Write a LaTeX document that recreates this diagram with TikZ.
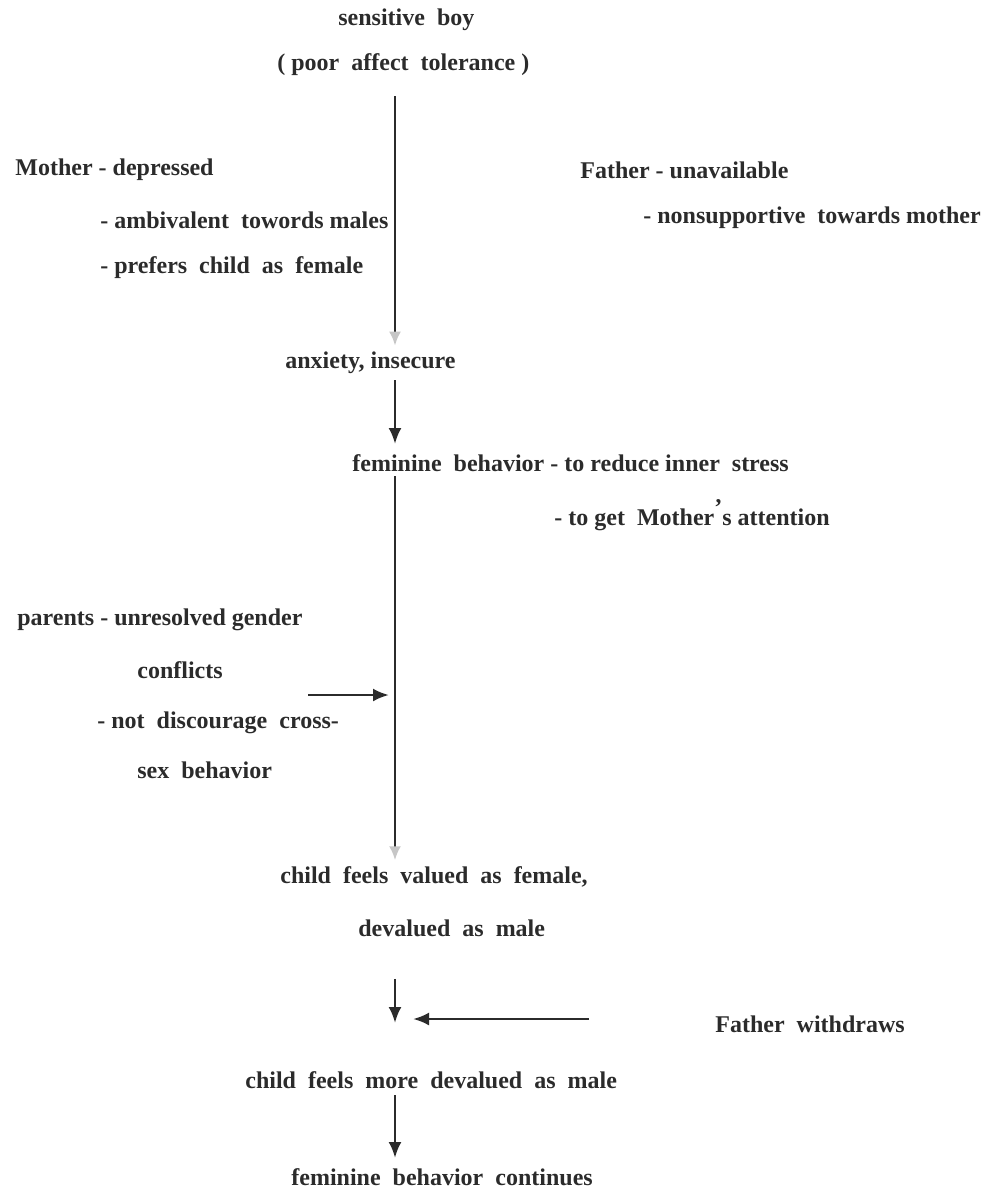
\documentclass[tikz,border=0pt]{standalone}
\usepackage{fontspec}
\setmainfont{Liberation Serif}
\usetikzlibrary{arrows.meta}
\definecolor{ink}{HTML}{2B2B2B}
\tikzset{
	txt/.style={anchor=west, inner sep=0pt, text=ink, font=\fontsize{12}{14}\selectfont\bfseries},
	flow/.style={draw=ink, line width=1.3pt, -{Latex[length=8pt,width=6.5pt]}},
	faint/.style={draw=ink, line width=1.3pt, -{Latex[length=7pt,width=6pt,color=gray!45]}}
}
\begin{document}
\begin{tikzpicture}[x=0.5pt,y=-0.5pt]

			\useasboundingbox (0,0) rectangle (1000,1194);
			\coordinate (spine) at (395,0);

			\node[txt] (boy) at (338,20) {sensitive \ boy};
			\node[txt] (tol) at (277,65) {( poor \ affect \ tolerance )};

			\node[txt] (mom1) at (15,170) {Mother - depressed};
			\node[txt] (mom2) at (100,220) {- ambivalent \ towords males};
			\node[txt] (mom3) at (100,268) {- prefers \ child \ as \ female};

			\node[txt] (dad1) at (580,170) {Father - unavailable};
			\node[txt] (dad2) at (643,218) {- nonsupportive \ towards mother};

			\node[txt] (anx) at (285,363) {anxiety, insecure};

			\node[txt] (fem1) at (352,463) {feminine \ behavior - to reduce inner \ stress};
			\node[txt] (fem2) at (554,515) {- to get \ Mother\raisebox{0.4em}{'}s attention};

			\node[txt] (par1) at (17,620) {parents - unresolved gender};
			\node[txt] (par2) at (137,670) {conflicts};
			\node[txt] (par3) at (97,723) {- not \ discourage \ cross-};
			\node[txt] (par4) at (137,770) {sex \ behavior};

			\node[txt] (val1) at (280,877) {child \ feels \ valued \ as \ female,};
			\node[txt] (val2) at (358,928) {devalued \ as \ male};

			\node[txt] (dadw) at (715,1024) {Father \ withdraws};

			\node[txt] (more) at (245,1080) {child \ feels \ more \ devalued \ as \ male};
			\node[txt] (cont) at (291,1177) {feminine \ behavior \ continues};

			\coordinate (parsrc) at (308,695);

			\draw[faint, shorten <=10pt, shorten >=3pt] (tol.south -| spine) -- (anx.north -| spine);
			\draw[flow, shorten <=3pt, shorten >=5pt] (anx.south -| spine) -- (fem1.north -| spine);
			\draw[faint, shorten <=2pt, shorten >=3pt] (fem1.south -| spine) -- (val1.north -| spine);
			\draw[flow, shorten >=3pt] (parsrc) -- (parsrc -| spine);
			\draw[flow, shorten <=21pt, shorten >=24pt] (val2.south -| spine) -- (more.north -| spine);
			\draw[flow, shorten <=63pt, shorten >=9pt] (dadw.west |- 0,1019) -- (spine |- 0,1019);
			\draw[flow, shorten <=3pt, shorten >=5pt] (more.south -| spine) -- (cont.north -| spine);
		\end{tikzpicture}
\end{document}
